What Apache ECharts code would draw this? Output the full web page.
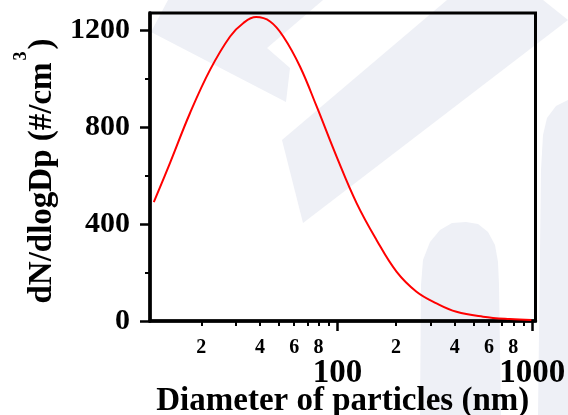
<!DOCTYPE html>
<html><head><meta charset="utf-8">
<script src="https://cdn.jsdelivr.net/npm/echarts@6/dist/echarts.min.js"></script>
<style>html,body{margin:0;padding:0;background:#fff}#c{width:568px;height:415px}</style>
</head><body><div id="c"></div>
<script>
// Particle number size distribution
const diameters = [11.4, 13.8, 17.5, 22.2, 28.1, 32.9, 38.2, 45.1, 52.7, 64.2, 78.2, 99, 125.4, 158.7, 201, 254.7, 322.7, 408.6, 559.6, 767, 990];
const concentrations = [491, 652, 859, 1038, 1175, 1231, 1255, 1237, 1175, 1051, 886, 679, 487, 335, 204, 121, 73, 38, 18, 8, 4];
const xMinorTicks = [20, 30, 40, 50, 60, 70, 80, 90, 200, 300, 400, 500, 600, 700, 800, 900];
const xMinorLabels = [20, 40, 60, 80, 200, 400, 600, 800];
const xMajorTicks = [100, 1000];
const yMajorTicks = [0, 400, 800, 1200];
const yMinorTicks = [200, 600, 1000];

const FONT = 'Liberation Serif';
const WM = '#eef0f6';
const chart = echarts.init(document.getElementById('c'), null, {renderer: 'canvas'});
const seriesData = diameters.map((d, i) => [d, concentrations[i]]);
const firstDigit = v => String(Math.round(v / Math.pow(10, Math.floor(Math.log10(v) + 1e-9))));
const xBase = {type: 'log', logBase: 10, min: 10.9, max: 1040, position: 'bottom',
  axisLine: {show: false}, splitLine: {show: false}, minorTick: {show: false}};
const yBase = {type: 'value', min: 0, max: 1272, position: 'left',
  axisLine: {show: false}, splitLine: {show: false}};

chart.setOption({
  animation: false,
  backgroundColor: '#fff',
  graphic: [
    {type: 'polygon', silent: true, z: -10, shape: {points: [[168,0],[323,0],[267,48],[290,68],[286,102],[151,32]]}, style: {fill: WM}},
    {type: 'polygon', silent: true, z: -10, shape: {points: [[447,0],[543,0],[568,20],[303,223],[282,140]]}, style: {fill: WM}},
    {type: 'polygon', silent: true, z: -10, shape: {points: [[420,415],[421,285],[423,260],[430,242],[440,230],[452,223],[466,222],[478,224],[488,232],[495,245],[498,262],[499,285],[501,415]]}, style: {fill: WM}},
    {type: 'polygon', silent: true, z: -10, shape: {points: [[568,100],[556,106],[547,118],[543,135],[541,170],[538,415],[568,415]]}, style: {fill: WM}}
  ],
  grid: {left: 150, right: 32.5, top: 13, bottom: 94, outerBoundsMode: 'none', containLabel: false, show: true, borderColor: '#000', borderWidth: 3, backgroundColor: 'transparent'},
  xAxis: [
    Object.assign({}, xBase, {
      axisLine: {show: true, lineStyle: {color: '#000', width: 3.5}},
      axisTick: {show: true, customValues: xMinorTicks, length: 5, lineStyle: {color: '#000', width: 2}},
      axisLabel: {customValues: xMinorLabels, formatter: firstDigit, fontFamily: FONT, fontWeight: 'bold', fontSize: 20, color: '#000', margin: 17},
      name: 'Diameter of particles (nm)', nameLocation: 'middle', nameGap: 64,
      nameTextStyle: {fontFamily: FONT, fontWeight: 'bold', fontSize: 33, color: '#000'}
    }),
    Object.assign({}, xBase, {
      axisTick: {show: true, customValues: xMajorTicks, length: 10, lineStyle: {color: '#000', width: 2.5}},
      axisLabel: {customValues: xMajorTicks, formatter: v => String(Math.round(v)), fontFamily: FONT, fontWeight: 'bold', fontSize: 33, color: '#000', margin: 36}
    })
  ],
  yAxis: [
    Object.assign({}, yBase, {
      axisLine: {show: true, lineStyle: {color: '#000', width: 3.5}},
      axisTick: {show: true, customValues: yMajorTicks, length: 10, lineStyle: {color: '#000', width: 2.5}},
      axisLabel: {customValues: yMajorTicks, formatter: v => String(v), fontFamily: FONT, fontWeight: 'bold', fontSize: 30, color: '#000', margin: 20},
      name: '{n|dN/dlogDp (#/cm}{s|3}{n|)}', nameLocation: 'middle', nameGap: 78,
      nameTextStyle: {padding: [0, 8, 0, 0], rich: {
        n: {fontFamily: FONT, fontWeight: 'bold', fontSize: 33, lineHeight: 60, color: '#000'},
        s: {fontFamily: FONT, fontWeight: 'bold', fontSize: 18, lineHeight: 18, verticalAlign: 'top', color: '#000', padding: [0, 2, 0, 2]}
      }}
    }),
    Object.assign({}, yBase, {
      axisTick: {show: true, customValues: yMinorTicks, length: 5, lineStyle: {color: '#000', width: 2}},
      axisLabel: {show: false}
    })
  ],
  series: [{
    type: 'line', xAxisIndex: 0, yAxisIndex: 0, data: seriesData, smooth: 0.4,
    showSymbol: false, symbol: 'none', lineStyle: {color: '#ff0000', width: 2}, z: 5
  }]
});
</script></body></html>
